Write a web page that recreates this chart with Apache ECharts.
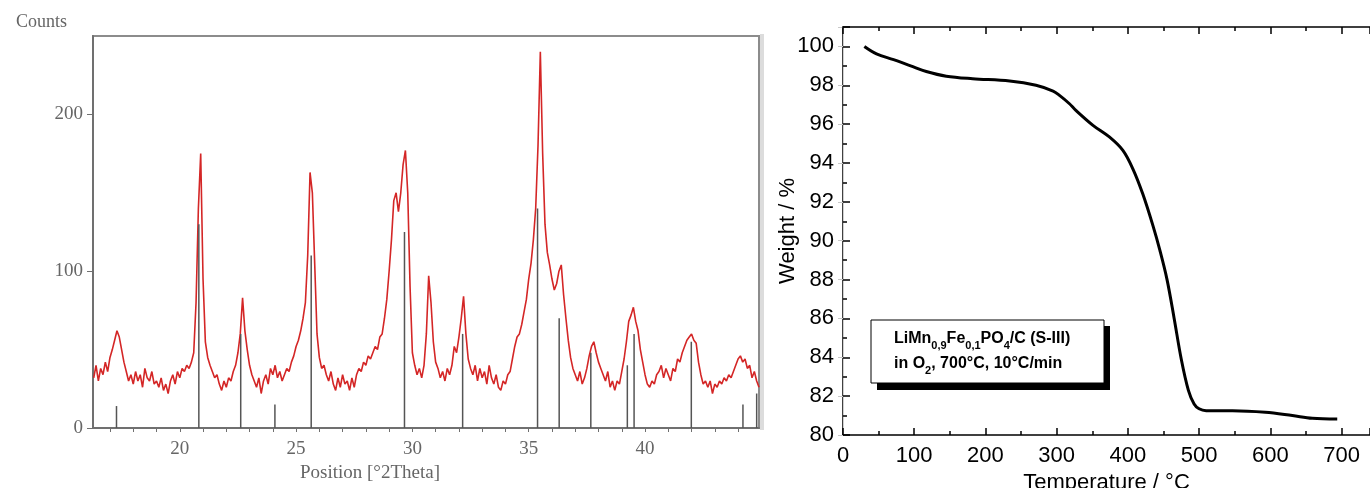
<!DOCTYPE html>
<html>
<head>
<meta charset="utf-8">
<script src="https://cdn.jsdelivr.net/npm/echarts@6/dist/echarts.min.js"></script>
<style>
html,body{margin:0;padding:0;background:#fff;}
#chart{width:1370px;height:488px;}
</style>
</head>
<body>
<div id="chart"></div>
<script>
// ---------- Left panel: XRD pattern ----------
const xrdStart = 16.3;   // first 2θ sample
const xrdStep = 0.1;     // 2θ step of the scan
const xrdCounts = [
  32,40,30,38,34,42,36,
  45,50,56,62,58,50,42,36,30,34,
  28,36,30,34,26,38,32,30,36,28,
  30,26,32,24,28,22,30,34,28,36,
  32,38,36,40,38,42,48,80,140,175,
  95,55,45,40,36,32,34,28,24,30,
  26,32,30,36,40,48,60,83,62,50,
  40,34,30,26,32,22,30,34,28,38,
  34,40,32,36,30,34,38,36,42,46,
  52,56,62,70,80,110,163,150,105,60,
  45,38,40,34,30,36,28,24,32,26,
  34,28,30,24,32,26,34,38,36,42,
  40,46,44,48,52,50,58,60,70,82,
  100,120,145,150,138,150,168,177,150,90,
  48,40,34,38,32,40,60,97,80,55,
  42,38,32,36,30,38,34,40,52,48,
  58,70,84,60,44,38,34,40,30,38,
  32,36,28,40,32,28,34,26,24,30,
  28,34,36,44,52,58,60,66,74,82,
  95,105,120,140,180,240,175,130,112,104,
  95,88,92,100,104,85,70,56,45,38,
  34,30,36,28,32,38,46,52,55,48,
  42,38,34,30,36,26,30,24,30,28,
  36,44,55,68,72,77,68,62,50,42,
  34,28,26,30,28,34,36,40,32,38,
  34,30,38,36,44,42,48,52,56,58,
  60,56,54,42,34,28,30,26,30,22,
  28,26,30,28,32,30,34,32,36,40,
  44,46,42,44,38,40,32,36,30,26
];
const refPos    = [17.28, 20.82, 22.62, 24.09, 25.65, 29.66, 32.16, 35.38, 36.31, 37.67, 39.24, 39.53, 41.99, 44.21, 44.80];
const refCounts = [14,    130,   60,    15,    110,   125,   60,    140,   70,    48,    40,    60,    55,    15,    22];
const xrdLabelTicks = [20, 25, 30, 35, 40];
const xrdMinorTicks = [17,18,19,20,21,22,23,24,25,26,27,28,29,30,31,32,33,34,35,36,37,38,39,40,41,42,43,44];
const countTicks = [0, 100, 200];

// ---------- Right panel: TGA ----------
const tempC = [30, 47, 71, 95, 117, 145, 182, 234, 271, 295, 304, 318, 327, 351, 374, 393, 407, 421, 435, 445, 455, 465, 475, 485, 493, 500, 510, 547, 593, 631, 659, 694];
const weightPct = [100.0, 99.62, 99.32, 99.0, 98.71, 98.47, 98.34, 98.22, 98.0, 97.7, 97.48, 97.05, 96.71, 95.94, 95.34, 94.65, 93.7, 92.4, 90.8, 89.5, 88.0, 86.0, 83.9, 82.3, 81.6, 81.35, 81.25, 81.25, 81.17, 81.0, 80.86, 80.82];

const xrdData = xrdCounts.map((c, i) => [+(xrdStart + i * xrdStep).toFixed(2), c]);
const refData = refPos.map((p, i) => [p, refCounts[i]]);
const tgaData = tempC.map((t, i) => [t, weightPct[i]]);

const serif = 'Liberation Serif';
const sans = 'Liberation Sans';
const grayTxt = '#666';
const grayAx = '#707070';

const chart = echarts.init(document.getElementById('chart'), null, {renderer: 'canvas'});
chart.setOption({
  animation: false,
  backgroundColor: '#fff',
  grid: [
    {left: 93, top: 36, width: 666, height: 392, show: true, borderColor: '#8c8c8c', borderWidth: 2, backgroundColor: 'transparent', outerBoundsMode: 'none', containLabel: false},
    {left: 843, top: 27, right: 0, height: 408, outerBoundsMode: 'none', containLabel: false}
  ],
  xAxis: [
    {
      gridIndex: 0, type: 'value', min: 16.27, max: 44.9,
      axisLine: {lineStyle: {color: grayAx, width: 2}},
      axisTick: {customValues: xrdMinorTicks, length: 4, lineStyle: {color: grayAx, width: 1}},
      axisLabel: {customValues: xrdLabelTicks, color: grayTxt, fontFamily: serif, fontSize: 19, margin: 12},
      splitLine: {show: false},
      name: 'Position [°2Theta]', nameLocation: 'middle', nameGap: 34,
      nameTextStyle: {color: grayTxt, fontFamily: serif, fontSize: 19, padding: [0, 112, 0, 0]}
    },
    {
      gridIndex: 1, type: 'value', min: 0, max: 740, interval: 100, position: 'bottom',
      axisLine: {lineStyle: {color: '#000', width: 1.5}},
      axisTick: {inside: true, length: 7, lineStyle: {color: '#000', width: 1.5}},
      minorTick: {show: true, splitNumber: 2, length: 4, lineStyle: {color: '#000', width: 1.5}},
      axisLabel: {color: '#000', fontFamily: sans, fontSize: 22, margin: 10, showMaxLabel: false},
      splitLine: {show: false},
      name: 'Temperature / °C', nameLocation: 'middle', nameGap: 33,
      nameTextStyle: {color: '#000', fontFamily: sans, fontSize: 22}
    },
    {
      gridIndex: 1, type: 'value', min: 0, max: 740, interval: 100, position: 'top',
      axisLine: {lineStyle: {color: '#000', width: 1.5}},
      axisTick: {inside: true, length: 7, lineStyle: {color: '#000', width: 1.5}},
      minorTick: {show: true, splitNumber: 2, length: 4, lineStyle: {color: '#000', width: 1.5}},
      axisLabel: {show: false},
      splitLine: {show: false}
    }
  ],
  yAxis: [
    {
      gridIndex: 0, type: 'value', min: 0, max: 250,
      axisLine: {show: true, lineStyle: {color: grayAx, width: 2}},
      axisTick: {show: true, customValues: countTicks, length: 6, lineStyle: {color: grayAx, width: 1}},
      axisLabel: {customValues: countTicks, color: grayTxt, fontFamily: serif, fontSize: 19, margin: 10},
      splitLine: {show: false},
      name: 'Counts', nameLocation: 'end', nameGap: 5,
      nameTextStyle: {color: grayTxt, fontFamily: serif, fontSize: 18, align: 'right', padding: [0, 26, 0, 0]}
    },
    {
      gridIndex: 1, type: 'value', min: 80, max: 101, interval: 2,
      axisLine: {show: true, lineStyle: {color: '#000', width: 1.5}},
      axisTick: {show: true, inside: true, length: 7, lineStyle: {color: '#000', width: 1.5}},
      minorTick: {show: true, splitNumber: 2, length: 4, lineStyle: {color: '#000', width: 1.5}},
      axisLabel: {color: '#000', fontFamily: sans, fontSize: 22, margin: 9, showMaxLabel: false},
      splitLine: {show: false},
      name: 'Weight / %', nameLocation: 'middle', nameGap: 44, nameMoveOverlap: false,
      nameTextStyle: {color: '#000', fontFamily: sans, fontSize: 22}
    },
    {
      gridIndex: 1, type: 'value', min: 80, max: 101, interval: 2, position: 'right',
      axisLine: {show: true, lineStyle: {color: '#d0d0d0', width: 1}},
      axisTick: {show: true, inside: true, length: 5, lineStyle: {color: '#c8c8c8', width: 1}},
      axisLabel: {show: false},
      splitLine: {show: false}
    }
  ],
  series: [
    {
      name: 'Measured', type: 'line', xAxisIndex: 0, yAxisIndex: 0,
      data: xrdData, symbol: 'none', z: 2,
      lineStyle: {color: '#d42626', width: 1.6}
    },
    {
      name: 'Reference', type: 'bar', xAxisIndex: 0, yAxisIndex: 0,
      data: refData, barWidth: 1.5, z: 3,
      itemStyle: {color: '#555'}
    },
    {
      name: 'TGA', type: 'line', xAxisIndex: 1, yAxisIndex: 1,
      data: tgaData, symbol: 'none', smooth: 0.35,
      lineStyle: {color: '#000', width: 3}
    }
  ],
  graphic: [
    {type: 'rect', shape: {x: 760, y: 34, width: 4, height: 396}, style: {fill: '#dcdcdc'}, silent: true},
    {type: 'rect', shape: {x: 877, y: 326, width: 233, height: 64}, style: {fill: '#000'}, z: 10},
    {type: 'rect', shape: {x: 871, y: 320, width: 233, height: 63}, style: {fill: '#fff', stroke: '#000', lineWidth: 1}, z: 11},
    {
      type: 'text', x: 894, y: 326, z: 12,
      style: {
        text: '{n|LiMn}{s|0,9}{n|Fe}{s|0,1}{n|PO}{s|4}{n|/C (S-III)}\n{n|in O}{s|2}{n|, 700°C, 10°C/min}',
        rich: {
          n: {fontSize: 16, fontWeight: 'bold', fontFamily: sans, fill: '#000', lineHeight: 25},
          s: {fontSize: 11, fontWeight: 'bold', fontFamily: sans, fill: '#000', lineHeight: 8, verticalAlign: 'bottom'}
        }
      }
    }
  ]
});
</script>
</body>
</html>
